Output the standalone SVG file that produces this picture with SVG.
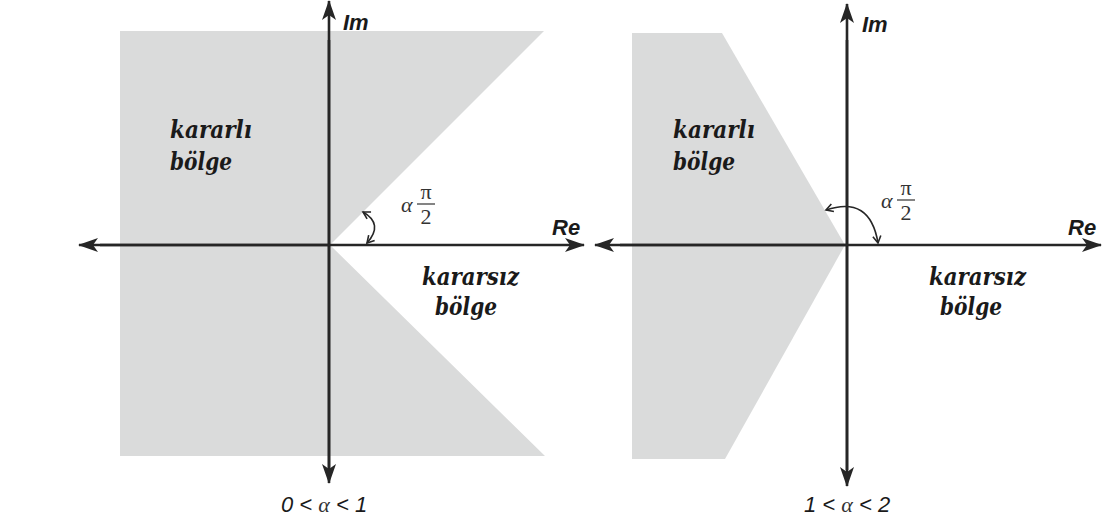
<svg xmlns="http://www.w3.org/2000/svg" width="1103" height="524" viewBox="0 0 1103 524">
<defs>
<style>
.shade{fill:#dadbdb;stroke:none}
.axis{stroke:#262626;stroke-width:2.6;fill:none}
.arc{stroke:#262626;stroke-width:1.6;fill:none}
.lbl{font-family:"DejaVu Serif","Liberation Serif",serif;font-weight:bold;font-style:italic;font-size:25px;fill:#1a1a1a}
.ax{font-family:"Liberation Sans",Arial,sans-serif;font-weight:bold;font-style:italic;font-size:22px;fill:#1a1a1a}
.cap{font-family:"Liberation Sans",Arial,sans-serif;font-style:italic;font-size:22px;fill:#1a1a1a}
.greek{font-family:"Liberation Serif",serif;font-style:italic;font-size:22px;fill:#333}
.frac{font-family:"Liberation Serif",serif;font-size:22px;fill:#333}
</style>
<marker id="ah" viewBox="0 0 20 14" refX="19" refY="7" markerWidth="20" markerHeight="14" markerUnits="userSpaceOnUse" orient="auto-start-reverse">
<path d="M0,0 L20,7 L0,14 L5,7 Z" fill="#262626"/>
</marker>
<marker id="sh" viewBox="0 0 10 10" refX="8" refY="5" markerWidth="10" markerHeight="10" markerUnits="userSpaceOnUse" orient="auto-start-reverse">
<path d="M1,1 L8,5 L1,9" fill="none" stroke="#262626" stroke-width="1.6"/>
</marker>
</defs>
<rect width="1103" height="524" fill="#ffffff"/>

<g id="left-diagram">
<polygon class="shade" points="120,31 544,31 330,245 545,456 120,456"/>
<g id="left-axes">
<line class="axis" x1="329" y1="470" x2="329" y2="1" marker-end="url(#ah)"/>
<line class="axis" x1="329" y1="40" x2="329" y2="483" marker-end="url(#ah)"/>
<line class="axis" x1="330" y1="245" x2="79" y2="245" marker-end="url(#ah)"/>
<line class="axis" x1="100" y1="245" x2="584" y2="245" marker-end="url(#ah)"/>
</g>
<path class="arc" d="M363,212 Q384,224 367,243" marker-start="url(#sh)" marker-end="url(#sh)"/>
<text class="greek" x="401" y="212">α</text>
<text class="frac" x="426" y="199" text-anchor="middle">π</text>
<line x1="417" y1="204" x2="435" y2="204" stroke="#333" stroke-width="1.2"/>
<text class="frac" x="426" y="224" text-anchor="middle">2</text>
<text class="ax" x="343" y="30">Im</text>
<text class="ax" x="552" y="235">Re</text>
<text class="lbl" x="170" y="138" textLength="82" lengthAdjust="spacingAndGlyphs">kararlı</text>
<text class="lbl" x="170" y="170" textLength="62" lengthAdjust="spacingAndGlyphs">bölge</text>
<text class="lbl" x="422" y="285" textLength="97" lengthAdjust="spacingAndGlyphs">kararsız</text>
<text class="lbl" x="435" y="315" textLength="62" lengthAdjust="spacingAndGlyphs">bölge</text>
<text class="cap" x="281" y="512">0 &lt; <tspan class="greek">α</tspan> &lt; 1</text>
</g>

<g id="right-diagram">
<polygon class="shade" points="632,33 722,33 845,245 725,459 632,459"/>
<g id="right-axes">
<line class="axis" x1="847" y1="470" x2="847" y2="4" marker-end="url(#ah)"/>
<line class="axis" x1="847" y1="40" x2="847" y2="486" marker-end="url(#ah)"/>
<line class="axis" x1="848" y1="245" x2="595" y2="245" marker-end="url(#ah)"/>
<line class="axis" x1="620" y1="245" x2="1101" y2="245" marker-end="url(#ah)"/>
</g>
<path class="arc" d="M826,210 Q870,195 878,243" marker-start="url(#sh)" marker-end="url(#sh)"/>
<text class="greek" x="881" y="208">α</text>
<text class="frac" x="906" y="195" text-anchor="middle">π</text>
<line x1="897" y1="200" x2="915" y2="200" stroke="#333" stroke-width="1.2"/>
<text class="frac" x="906" y="220" text-anchor="middle">2</text>
<text class="ax" x="862" y="32">Im</text>
<text class="ax" x="1068" y="235">Re</text>
<text class="lbl" x="673" y="138" textLength="82" lengthAdjust="spacingAndGlyphs">kararlı</text>
<text class="lbl" x="673" y="170" textLength="62" lengthAdjust="spacingAndGlyphs">bölge</text>
<text class="lbl" x="929" y="285" textLength="97" lengthAdjust="spacingAndGlyphs">kararsız</text>
<text class="lbl" x="940" y="315" textLength="62" lengthAdjust="spacingAndGlyphs">bölge</text>
<text class="cap" x="804" y="512">1 &lt; <tspan class="greek">α</tspan> &lt; 2</text>
</g>
</svg>
